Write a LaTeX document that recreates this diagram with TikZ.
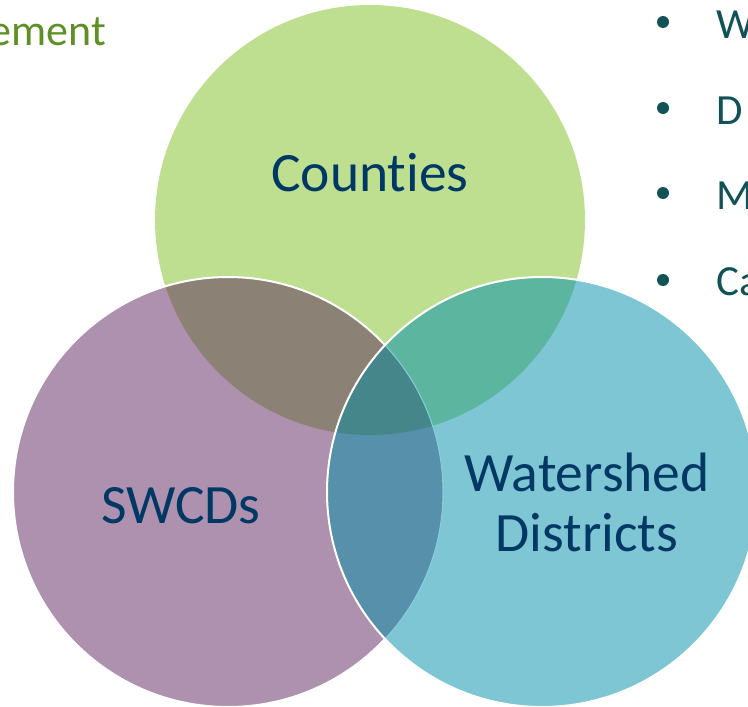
\documentclass[tikz,border=0pt]{standalone}
\usepackage{fontspec}
\setmainfont{Carlito}[Ligatures=CommonOff]
\definecolor{cgreen}{RGB}{190,223,144}
\definecolor{cpurple}{RGB}{173,145,174}
\definecolor{cblue}{RGB}{127,198,212}
\definecolor{cbrown}{RGB}{139,130,117}
\definecolor{ctealgreen}{RGB}{92,181,158}
\definecolor{csteel}{RGB}{86,144,170}
\definecolor{cdeep}{RGB}{69,134,138}
\definecolor{cfaint}{RGB}{140,205,218}
\definecolor{ctext}{RGB}{0,56,101}
\definecolor{cbullet}{RGB}{17,82,87}
\definecolor{cgreentext}{RGB}{94,145,37}
\tikzset{
  label/.style={text=ctext, font=\fontsize{55.5}{60}\selectfont, align=center, inner sep=0pt},
  bulletitem/.style={text=cbullet, font=\fontsize{43}{48}\selectfont, anchor=base west, inner sep=0pt},
  bulletdot/.style={circle, fill=cbullet, minimum size=12pt, inner sep=0pt},
  outline/.style={draw=white, line width=2pt}
}
\begin{document}
\begin{tikzpicture}[x=1pt,y=-1pt]
\useasboundingbox (0,0) rectangle (748,707);
\coordinate (cc) at (370,220);
\coordinate (cs) at (228,492);
\coordinate (cw) at (542,492);
% Counties
\fill[cgreen] (cc) circle (215pt);
% SWCDs
\fill[cpurple] (cs) circle (215pt);
\begin{scope}
  \clip (cc) circle (215pt);
  \fill[cbrown] (cs) circle (215pt);
\end{scope}
\path[outline] (cs) circle (215pt);
% Watershed Districts
\fill[cblue] (cw) circle (215pt);
\begin{scope}
  \clip (cw) circle (215pt);
  \fill[ctealgreen] (cc) circle (215pt);
  \fill[csteel] (cs) circle (215pt);
  \begin{scope}
    \clip (cc) circle (215pt);
    \fill[cdeep] (cs) circle (215pt);
  \end{scope}
  \draw[cfaint, line width=1pt] (cs) circle (215pt);
\end{scope}
\path[outline] (cw) circle (215pt);
% labels
\node[label, anchor=base] (counties) at (370,191) {Counties};
\node[label, anchor=base] (swcds) at (181,523) {SWCDs};
\node[label, anchor=base] (wd) at (587,551) {Watershed\\Districts};
% left-top text
\node[text=cgreentext, font=\fontsize{44}{50}\selectfont, anchor=base east, inner sep=0pt] (ement) at (106,45) {ement};
% bullets
\node[bulletdot] (b1) at (663,22) {};
\node[bulletdot] (b2) at (663,108) {};
\node[bulletdot] (b3) at (663,193) {};
\node[bulletdot] (b4) at (663,280) {};
\node[bulletitem] (t1) at (716,38) {W};
\node[bulletitem] (t2) at (716,124) {D};
\node[bulletitem] (t3) at (716,209) {M};
\node[bulletitem] (t4) at (716,295) {Ca};
\end{tikzpicture}
\end{document}
